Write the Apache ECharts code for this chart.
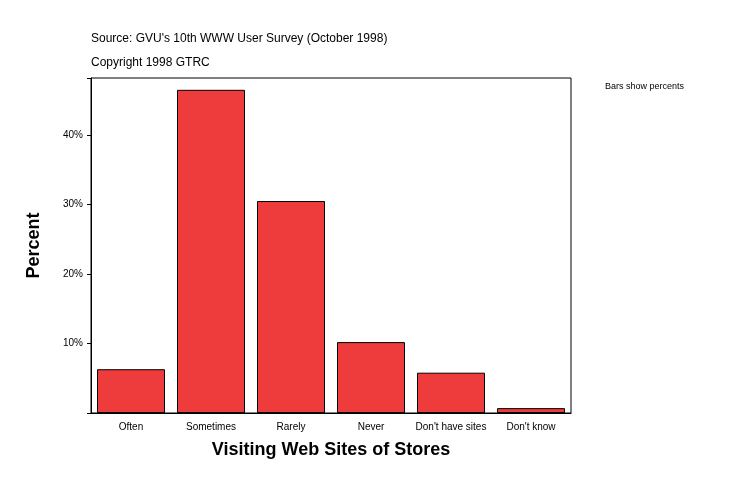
<!DOCTYPE html>
<html><head><meta charset="utf-8">
<script src="https://cdn.jsdelivr.net/npm/echarts@6/dist/echarts.min.js"></script>
<style>html,body{margin:0;padding:0;background:#fff}#c{width:734px;height:496px}</style>
</head><body><div id="c"></div>
<script>
const categories = ["Often","Sometimes","Rarely","Never","Don't have sites","Don't know"];
const percents = [6.3, 46.5, 30.5, 10.2, 5.8, 0.7];
const yTicks = [10, 20, 30, 40];
const chart = echarts.init(document.getElementById('c'));
chart.setOption({
  animation:false,
  graphic:[
    {type:'text',left:91,top:33,style:{text:"Source: GVU's 10th WWW User Survey (October 1998)",font:'12px Arial',fill:'#000'}},
    {type:'text',left:91,top:57,style:{text:"Copyright 1998 GTRC",font:'12px Arial',fill:'#000'}},
    {type:'text',left:605,top:82,style:{text:"Bars show percents",font:'9px Arial',fill:'#000'}},
    {type:'rect',shape:{x:91,y:78,width:480,height:335},style:{fill:'none',stroke:'#000',lineWidth:1}}
  ],
  grid:{left:91,right:163,top:78,bottom:83,containLabel:false},
  xAxis:{type:'category',data:categories,
    name:'Visiting Web Sites of Stores',nameLocation:'middle',nameGap:28,
    nameTextStyle:{fontFamily:'Arial',fontWeight:'bold',fontSize:18,color:'#000'},
    axisLine:{lineStyle:{color:'#000'}},axisTick:{show:false},
    axisLabel:{fontFamily:'Arial',fontSize:10,color:'#000',margin:9,interval:0}},
  yAxis:{type:'value',min:0,max:48.2,interval:10,
    name:'Percent',nameLocation:'middle',nameGap:48,
    nameTextStyle:{fontFamily:'Arial',fontWeight:'bold',fontSize:18,color:'#000'},
    splitLine:{show:false},axisLine:{show:true,lineStyle:{color:'#000'}},
    axisTick:{show:true,length:4,lineStyle:{color:'#000'}},
    axisLabel:{fontFamily:'Arial',fontSize:10,color:'#000',
      formatter:v=>yTicks.includes(v)?v+'%':''}},
  series:[{type:'bar',data:percents,barWidth:'85%',
    itemStyle:{color:'#ee3b3b',borderColor:'#000',borderWidth:1}}]
});
</script></body></html>
